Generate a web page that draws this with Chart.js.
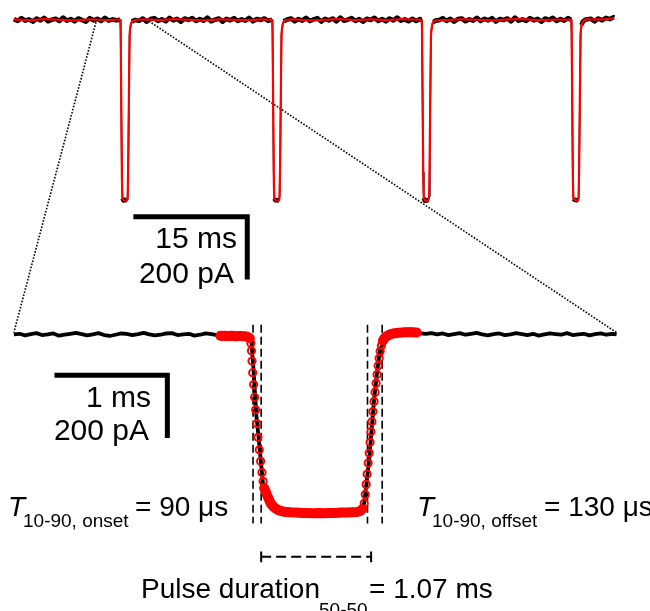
<!DOCTYPE html>
<html>
<head>
<meta charset="utf-8">
<script src="https://cdn.jsdelivr.net/npm/chart.js@4.4.1/dist/chart.umd.min.js"></script>
<style>
html,body{margin:0;padding:0;background:#fff;}
#wrap{position:relative;width:650px;height:611px;}
canvas{display:block;}
</style>
</head>
<body>
<div id="wrap"><canvas id="c" width="650" height="611"></canvas></div>
<script>
// ---------- Top panel: 50 Hz pulse train (time in ms, current in pA) ----------
const topRawTime = [
0,0.5,1,1.5,2,2.5,3,3.5,4,4.5,5,5.5,6,6.5,7,7.5,8,8.5,9,9.5,10,10.5,11,11.5,12,12.5,13,13.5,
14.00,14.07,14.23,14.31,14.45,14.91,15.00,15.10,15.25,15.38,15.55,15.94,
16.5,17,17.5,18,18.5,19,19.5,20,20.5,21,21.5,22,22.5,23,23.5,24,24.5,25,25.5,26,26.5,27,27.5,28,28.5,29,29.5,30,30.5,31,31.5,32,32.5,33,33.5,
34.01,34.08,34.24,34.32,34.46,34.92,35.01,35.11,35.26,35.39,35.56,35.95,
36.5,37,37.5,38,38.5,39,39.5,40,40.5,41,41.5,42,42.5,43,43.5,44,44.5,45,45.5,46,46.5,47,47.5,48,48.5,49,49.5,50,50.5,51,51.5,52,52.5,53,53.5,
53.70,53.77,53.93,54.01,54.15,54.61,54.70,54.80,54.95,55.08,55.25,55.64,
56,56.5,57,57.5,58,58.5,59,59.5,60,60.5,61,61.5,62,62.5,63,63.5,64,64.5,65,65.5,66,66.5,67,67.5,68,68.5,69,69.5,70,70.5,71,71.5,72,72.5,73,
73.41,73.48,73.64,73.72,73.86,74.32,74.41,74.51,74.66,74.79,74.96,75.35,
76,76.5,77,77.5,78,78.5,79,79.1
];
const topRawCurrent = [
2,-4,5,-3,1,-6,4,-2,6,-5,0,3,-4,7,-3,2,-5,4,-1,-6,5,-2,3,-4,6,-3,1,-2,
0,-34,-488,-569,-576,-574,-562,-394,-50,-19,-6,-1,
-3,4,-6,2,5,-4,1,-5,6,-2,3,-6,4,-1,5,-4,2,-3,7,-5,0,4,-6,3,-2,5,-4,1,-3,6,-5,2,-1,4,-3,
0,-36,-492,-570,-575,-576,-560,-390,-48,-18,-5,0,
4,-5,2,-3,6,-4,1,5,-6,3,-2,4,-5,7,-3,0,5,-4,2,-6,3,-1,6,-4,2,-5,4,-2,7,-3,1,-5,3,-4,2,
0,-33,-486,-568,-577,-575,-563,-396,-52,-20,-7,-2,
-2,5,-4,3,-6,2,4,-5,1,-3,6,-4,3,-2,5,-6,2,-1,4,-5,7,-3,1,-4,5,-2,3,-6,4,-1,6,-4,2,-3,5,
0,-35,-490,-571,-574,-576,-561,-392,-49,-17,-6,1,
3,-5,4,-2,6,2,8,7
];
const topFitTime = [
0,2,4,6,8,10,12,13.5,
14.00,14.07,14.23,14.31,14.45,14.91,15.00,15.10,15.25,15.38,15.55,15.94,
17,19,21,23,25,27,29,31,33,33.6,
34.01,34.08,34.24,34.32,34.46,34.92,35.01,35.11,35.26,35.39,35.56,35.95,
37,39,41,43,45,47,49,51,53.2,
53.70,53.77,53.93,54.01,54.15,54.61,54.70,54.80,54.95,55.08,55.25,55.64,
57,59,61,63,65,67,69,71,72.9,
73.41,73.48,73.64,73.72,73.86,74.32,74.41,74.51,74.66,74.79,74.96,75.35,
77,78.5,79.1
];
const topFitCurrent = [
1,-1,2,0,-2,1,-1,0,
0,-34,-488,-569,-576,-574,-562,-394,-50,-19,-6,-1,
1,-1,2,0,-2,1,0,-1,1,0,
0,-36,-492,-570,-575,-576,-560,-390,-48,-18,-5,0,
1,-2,0,2,-1,1,-1,2,0,
0,-33,-486,-568,-577,-575,-563,-396,-52,-20,-7,-2,
-1,1,0,-2,1,2,-1,0,0,
0,-35,-490,-571,-574,-576,-561,-392,-49,-17,-6,1,
1,3,5
];

// ---------- Bottom panel: one pulse, expanded ----------
const botRawTime = [
0,0.05,0.1,0.15,0.2,0.25,0.3,0.35,0.4,0.45,0.5,0.55,0.6,0.65,0.7,0.75,0.8,0.85,0.9,0.95,1,1.05,1.1,1.15,1.2,1.25,1.3,1.35,1.4,1.45,1.5,1.55,1.6,1.65,1.7,1.75,1.8,1.85,
1.95,2.05,2.09,
2.104,2.12,2.148,2.177,2.209,2.25,2.30,2.39,
2.6,2.8,3.0,3.08,
3.104,3.125,3.148,3.17,3.191,3.215,3.243,3.296,3.409,3.583,
3.65,3.7,3.75,3.8,3.85,3.9,3.95,4,4.05,4.1,4.15,4.2,4.25,4.3,4.35,4.4,4.45,4.5,4.55,4.6,4.65,4.7,4.75,4.8,4.85,4.9,4.95,5,5.05,5.1,5.15,5.2,5.25,5.3,5.34
];
const botRawCurrent = [
0,2,-3,1,4,-2,0,3,-4,-1,2,5,1,-3,0,4,-2,-5,-1,3,2,-2,1,5,0,-3,-1,3,4,-2,0,2,-4,-1,3,1,-2,-4,
-5,-6,-9,
-20,-95,-256,-360,-484,-525,-552,-565,
-568,-567,-566,-562,
-537,-470,-400,-300,-210,-130,-50,-9,2,4,
2,4,0,3,-2,1,4,-1,2,5,0,-3,1,3,-2,0,4,1,-2,2,-4,0,3,1,-1,4,-2,0,2,-3,1,3,-1,2,0
];
const botFitTime = [
1.83,1.85,1.87,1.89,1.91,1.93,1.95,1.97,1.99,2.01,2.03,2.05,2.07,2.09,
2.100,2.105,2.110,2.116,2.124,2.133,2.142,2.152,2.163,2.174,2.186,2.198,2.208,2.218,
2.235,2.250,2.265,2.278,2.300,2.322,2.350,2.390,
2.45,2.5,2.55,2.6,2.65,2.7,2.75,2.8,2.85,2.9,2.95,3.0,3.04,3.07,3.087,
3.104,3.113,3.121,3.130,3.139,3.148,3.156,3.163,3.172,3.181,3.191,3.200,3.209,3.218,3.227,3.236,3.245,3.256,
3.27,3.285,3.30,3.32,3.34,3.36,3.38,3.41,3.44,3.47,3.50,3.53,3.568
];
const botFitCurrent = [
-4,-5,-4,-5,-5,-4,-5,-6,-5,-5,-6,-6,-8,-12,
-28,-52,-85,-122,-160,-200,-240,-284,-328,-368,-404,-440,-468,-490,
-505,-518,-530,-540,-549,-556,-561,-565,
-567,-568,-569,-569,-570,-569,-570,-569,-569,-568,-568,-567,-566,-563,-557,
-538,-510,-478,-445,-410,-378,-344,-310,-278,-246,-214,-184,-156,-128,-100,-76,-54,-36,
-20,-11,-6,-2,1,3,4,5,6,7,7,7,6
];

// 10-90 % markers (ms) and their vertical extent (pA), 50-50 duration bracket
const markerTimes = [2.119, 2.191, 3.133, 3.263];
const markerSpan = [31, -603];
const bracketTimes = [2.191, 3.165];
const bracketLevel = -709;
const bracketTick = 17;

// Scale bars: [start, corner, end]
const topBarTime = [15.75, 30.75, 30.75];     // 15 ms
const topBarCurrent = [-628, -628, -828];     // 200 pA
const botBarTime = [0.36, 1.36, 1.36];        // 1 ms
const botBarCurrent = [-130, -130, -330];     // 200 pA

// Zoom connector lines: top-panel point -> bottom-panel point
const zoomFromTime = [10.82, 18.14], zoomFromCurrent = [-8, -10];
const zoomToTime = [0, 5.339], zoomToCurrent = [6, 6];

// ---------- layout (pixel frame of each panel) ----------
const W = 650, H = 611;
const topFrame = {x0: 8, pxPerMs: 116 / 15, y0: 14, pxPerPA: 0.32};
const botFrame = {x0: 8, pxPerMs: 115, y0: 335, pxPerPA: 0.32};
const xRange = f => ({min: -f.x0 / f.pxPerMs, max: (W - f.x0) / f.pxPerMs});
const yRange = f => ({min: -(H - f.y0) / f.pxPerPA, max: f.y0 / f.pxPerPA});

const zip = (xs, ys) => xs.map((x, i) => ({x, y: ys[i]}));
const RED = '#ff0000';
const steep = c => Math.abs(c.p1.y - c.p0.y) > 3 * Math.abs(c.p1.x - c.p0.x);

const datasets = [];
// bottom fit (red circles + band)
datasets.push({
  data: zip(botFitTime, botFitCurrent), xAxisID: 'xBot', yAxisID: 'yBot', order: 1,
  showLine: true, borderWidth: 10, borderColor: RED, borderCapStyle: 'round', borderJoinStyle: 'round',
  segment: {borderColor: c => steep(c) ? 'rgba(0,0,0,0)' : RED},
  pointRadius: 3.6, pointBorderWidth: 2, pointBorderColor: RED, pointBackgroundColor: 'rgba(0,0,0,0)'
});
// bottom raw (black)
datasets.push({
  data: zip(botRawTime, botRawCurrent), xAxisID: 'xBot', yAxisID: 'yBot', order: 2,
  showLine: true, borderWidth: 3.8, borderColor: '#000', pointRadius: 0, borderJoinStyle: 'round'
});
// top fit (red)
datasets.push({
  data: zip(topFitTime, topFitCurrent), xAxisID: 'xTop', yAxisID: 'yTop', order: 1,
  showLine: true, borderWidth: 2.2, borderColor: RED, pointRadius: 0, borderJoinStyle: 'round', tension: 0.2
});
// top raw (black)
datasets.push({
  data: zip(topRawTime, topRawCurrent), xAxisID: 'xTop', yAxisID: 'yTop', order: 2,
  showLine: true, borderWidth: 4.6, borderColor: '#000', pointRadius: 0, borderJoinStyle: 'round',
  segment: {borderWidth: c => steep(c) ? 1.6 : 4.6}
});
// 10-90 markers
markerTimes.forEach(t => datasets.push({
  data: markerSpan.map(v => ({x: t, y: v})), xAxisID: 'xBot', yAxisID: 'yBot', order: 3,
  showLine: true, borderWidth: 1.6, borderColor: '#000', borderDash: [8, 4], pointRadius: 0
}));
// bracket
datasets.push({
  data: bracketTimes.map(t => ({x: t, y: bracketLevel})), xAxisID: 'xBot', yAxisID: 'yBot', order: 3,
  showLine: true, borderWidth: 2, borderColor: '#000', borderDash: [10, 5], pointRadius: 0
});
bracketTimes.forEach(t => datasets.push({
  data: [{x: t, y: bracketLevel + bracketTick}, {x: t, y: bracketLevel - bracketTick}], xAxisID: 'xBot', yAxisID: 'yBot', order: 3,
  showLine: true, borderWidth: 2, borderColor: '#000', pointRadius: 0
}));
// scale bars
datasets.push({
  data: zip(topBarTime, topBarCurrent), xAxisID: 'xTop', yAxisID: 'yTop', order: 3,
  showLine: true, borderWidth: 5, borderColor: '#000', pointRadius: 0, borderJoinStyle: 'miter', borderCapStyle: 'butt'
});
datasets.push({
  data: zip(botBarTime, botBarCurrent), xAxisID: 'xBot', yAxisID: 'yBot', order: 3,
  showLine: true, borderWidth: 5, borderColor: '#000', pointRadius: 0, borderJoinStyle: 'miter', borderCapStyle: 'butt'
});

// text annotations
const FONT = '"Liberation Sans", Arial, Helvetica, sans-serif';
const labels = [
  {t: '15 ms', x: 237, y: 248, s: 30, a: 'right'},
  {t: '200 pA', x: 234, y: 283, s: 30, a: 'right'},
  {t: '1 ms', x: 151, y: 407, s: 30, a: 'right'},
  {t: '200 pA', x: 149, y: 440, s: 30, a: 'right'},
  {t: 'T', x: 8, y: 516, s: 28, i: true},
  {t: '10-90, onset', x: 23, y: 527, s: 19},
  {t: '= 90 \u03bcs', x: 135, y: 516, s: 28},
  {t: 'T', x: 417, y: 516, s: 28, i: true},
  {t: '10-90, offset', x: 432, y: 527, s: 19},
  {t: '= 130 \u03bcs', x: 544, y: 516, s: 28},
  {t: 'Pulse duration', x: 141, y: 598, s: 28},
  {t: '50-50', x: 319, y: 616, s: 19},
  {t: '= 1.07 ms', x: 369, y: 598, s: 28}
];

const decor = {
  id: 'decor',
  beforeDatasetsDraw(chart) {
    const {ctx, scales: s} = chart;
    ctx.save();
    ctx.strokeStyle = '#000';
    ctx.lineWidth = 1.6;
    ctx.setLineDash([1.6, 1.6]);
    zoomFromTime.forEach((t, i) => {
      ctx.beginPath();
      ctx.moveTo(s.xTop.getPixelForValue(t), s.yTop.getPixelForValue(zoomFromCurrent[i]));
      ctx.lineTo(s.xBot.getPixelForValue(zoomToTime[i]), s.yBot.getPixelForValue(zoomToCurrent[i]));
      ctx.stroke();
    });
    ctx.restore();
  },
  afterDraw(chart) {
    const ctx = chart.ctx;
    ctx.save();
    ctx.fillStyle = '#000';
    ctx.textBaseline = 'alphabetic';
    labels.forEach(l => {
      ctx.font = (l.i ? 'italic ' : '') + l.s + 'px ' + FONT;
      ctx.textAlign = l.a || 'left';
      ctx.fillText(l.t, l.x, l.y);
    });
    ctx.restore();
  }
};

new Chart(document.getElementById('c'), {
  type: 'scatter',
  data: {datasets},
  options: {
    responsive: false, animation: false, devicePixelRatio: 1, events: [],
    layout: {padding: 0},
    plugins: {legend: {display: false}, tooltip: {enabled: false}},
    scales: {
      xTop: Object.assign({type: 'linear', display: false}, xRange(topFrame)),
      yTop: Object.assign({type: 'linear', display: false}, yRange(topFrame)),
      xBot: Object.assign({type: 'linear', display: false}, xRange(botFrame)),
      yBot: Object.assign({type: 'linear', display: false}, yRange(botFrame))
    }
  },
  plugins: [decor]
});
</script>
</body>
</html>
